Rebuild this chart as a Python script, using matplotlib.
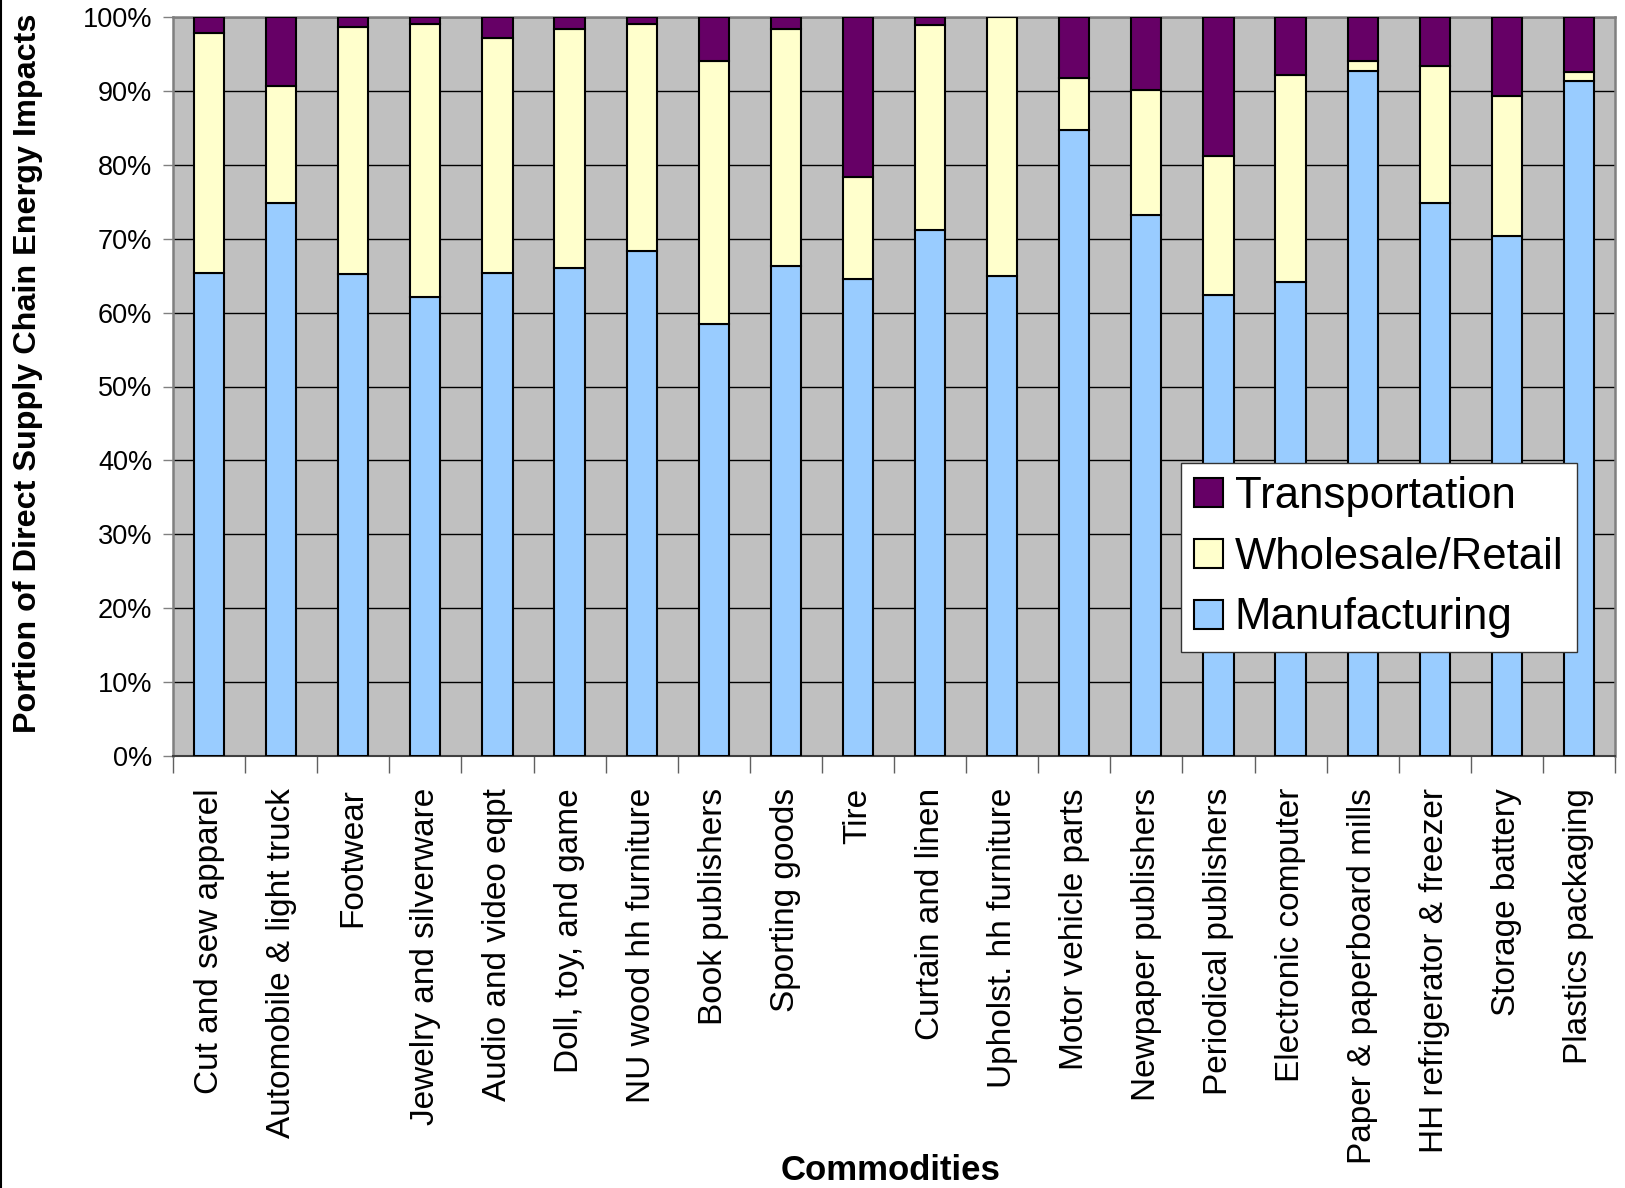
import matplotlib
matplotlib.use("Agg")
import matplotlib.pyplot as plt
import numpy as np
from matplotlib.lines import Line2D

plt.rcParams['font.family'] = ['Liberation Sans', 'DejaVu Sans']

categories = ["Cut and sew apparel", "Automobile & light truck", "Footwear",
              "Jewelry and silverware", "Audio and video eqpt", "Doll, toy, and game",
              "NU wood hh furniture", "Book publishers", "Sporting goods", "Tire",
              "Curtain and linen", "Upholst. hh furniture", "Motor vehicle parts",
              "Newpaper publishers", "Periodical publishers", "Electronic computer",
              "Paper & paperboard mills", "HH refrigerator & freezer", "Storage battery",
              "Plastics packaging"]

manufacturing = [65.4, 74.8, 65.2, 62.1, 65.4, 66.0, 68.3, 58.5, 66.3, 64.5,
                 71.2, 65.0, 84.7, 73.2, 62.4, 64.2, 92.7, 74.8, 70.4, 91.4]
wholesale_retail = [32.5, 15.8, 33.4, 37.0, 31.7, 32.4, 30.7, 35.5, 32.1, 13.9,
                    27.7, 35.0, 7.0, 16.9, 18.8, 28.0, 1.3, 18.6, 18.9, 1.2]
transportation = [2.1, 9.4, 1.4, 0.9, 2.9, 1.6, 1.0, 6.0, 1.6, 21.6,
                  1.1, 0.0, 8.3, 9.9, 18.8, 7.8, 6.0, 6.6, 10.7, 7.4]

yticks = [0, 10, 20, 30, 40, 50, 60, 70, 80, 90, 100]
ytick_labels = ["0%", "10%", "20%", "30%", "40%", "50%", "60%", "70%", "80%", "90%", "100%"]

c_man = "#99CCFF"
c_whole = "#FFFFCC"
c_trans = "#660066"

fig = plt.figure(figsize=(16.25, 11.88), dpi=100)
ax = fig.add_axes([173/1625, 1-756/1188, (1615-173)/1625, (756-17)/1188])
ax.set_facecolor("#C0C0C0")

x = np.arange(len(categories))
w = 0.42
man = np.array(manufacturing)
wr = np.array(wholesale_retail)
tr = np.array(transportation)
b1 = ax.bar(x, man, w, color=c_man, edgecolor="black", linewidth=1.5, zorder=3, label="Manufacturing")
b2 = ax.bar(x, wr, w, bottom=man, color=c_whole, edgecolor="black", linewidth=1.5, zorder=3, label="Wholesale/Retail")
b3 = ax.bar(x, tr, w, bottom=man + wr, color=c_trans, edgecolor="black", linewidth=1.5, zorder=3, label="Transportation")

ax.set_xlim(-0.5, len(categories) - 0.5)
ax.set_ylim(0, 100)
ax.set_yticks(yticks)
ax.set_yticklabels(ytick_labels, fontsize=19.5)
ax.yaxis.grid(True, color="black", linewidth=1.0, zorder=1)
ax.set_axisbelow(True)
ax.tick_params(axis='y', direction='out', length=7, width=1, color="#808080", pad=8)

ax.set_xticks(x)
ax.set_xticklabels(categories, rotation=90, fontsize=24)
ax.tick_params(axis='x', which='major', length=0, pad=23)
ax.set_xticks(np.arange(-0.5, len(categories), 1.0), minor=True)
ax.tick_params(axis='x', which='minor', direction='out', length=12, width=1, color="#606060")

for s in ['left', 'top', 'right']:
    ax.spines[s].set_color("#808080")
    ax.spines[s].set_linewidth(1.8)
ax.spines['bottom'].set_color("#404040")
ax.spines['bottom'].set_linewidth(1.5)

handles = [b3, b2, b1]
leg = ax.legend(handles, ["Transportation", "Wholesale/Retail", "Manufacturing"],
                loc='upper left', bbox_to_anchor=(0.699, 0.3965),
                fontsize=31.5, frameon=True, fancybox=False, framealpha=1.0,
                edgecolor="#333333", handlelength=0.65, handleheight=0.65,
                handletextpad=0.28, borderpad=0.3, labelspacing=0.45, borderaxespad=0)
leg.get_frame().set_linewidth(1.0)
leg.set_zorder(5)

fig.text(0.0172, 1-733/1188, "Portion of Direct Supply Chain Energy Impacts",
         rotation=90, ha='center', va='bottom', fontsize=23.3, fontweight='bold')
fig.text(891/1625, 1-1171/1188, "Commodities", ha='center', va='center',
         fontsize=25, fontweight='bold')

fig.add_artist(Line2D([0.0008, 0.0008], [0, 1], transform=fig.transFigure, color="black", linewidth=1.5))

fig.savefig("out.png", dpi=100, facecolor="white")
